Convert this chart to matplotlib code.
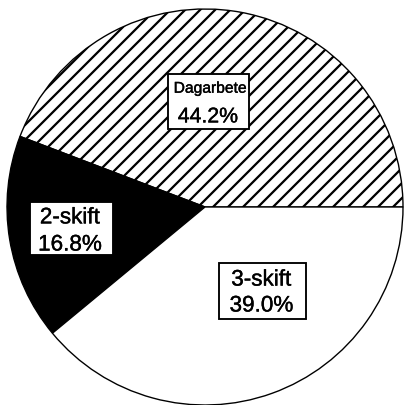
import matplotlib
matplotlib.use("Agg")
import matplotlib.pyplot as plt
from matplotlib.patches import Rectangle
import matplotlib.patheffects as pe

# data
categories = ["Dagarbete", "2-skift", "3-skift"]
shares = [44.2, 16.8, 39.0]
label_text = ["44.2%", "16.8%", "39.0%"]

plt.rcParams['font.family'] = ['Liberation Sans', 'DejaVu Sans']
plt.rcParams['hatch.linewidth'] = 1.8

DPI = 90
fig = plt.figure(figsize=(404 / DPI, 405 / DPI), dpi=DPI)
ax = fig.add_axes([0, 0, 1, 1])

wedges, _ = ax.pie(shares, startangle=0, counterclock=True,
                   colors=["white", "black", "white"],
                   hatch=["//", "", ""],
                   wedgeprops=dict(edgecolor="black", linewidth=1.1))

# pixel-matched limits (center at 205,207 px, radius 198 px)
ax.set_xlim(-205 / 198, 199 / 198)
ax.set_ylim(-198 / 198, 207 / 198)
ax.set_aspect('equal')
ax.axis('off')

# label boxes (center x, center y, width, height in data units)
boxes = [(0.018, 0.533, 0.409, 0.278),
         (-0.674, -0.109, 0.419, 0.268),
         (0.290, -0.424, 0.439, 0.283)]
for cx, cy, w, h in boxes:
    ax.add_patch(Rectangle((cx - w / 2, cy - h / 2), w, h, facecolor="white",
                           edgecolor="black", linewidth=1.5, zorder=3))

# a thin stroke makes the print-like type a bit heavier
heavy = [pe.withStroke(linewidth=0.3, foreground="black")]

# Dagarbete: small name, larger percentage
ax.text(0.025, 0.600, categories[0], ha="center", va="center", fontsize=12.5,
        zorder=4, path_effects=heavy)
ax.text(0.015, 0.455, label_text[0], ha="center", va="center", fontsize=17,
        zorder=4, path_effects=heavy)

ax.text(-0.682, -0.050, categories[1], ha="center", va="center", fontsize=18,
        zorder=4, path_effects=heavy)
ax.text(-0.682, -0.187, label_text[1], ha="center", va="center", fontsize=18,
        zorder=4, path_effects=heavy)

ax.text(0.285, -0.364, categories[2], ha="center", va="center", fontsize=18,
        zorder=4, path_effects=heavy)
ax.text(0.285, -0.495, label_text[2], ha="center", va="center", fontsize=18,
        zorder=4, path_effects=heavy)

fig.savefig("out.png", dpi=DPI, facecolor="white")
